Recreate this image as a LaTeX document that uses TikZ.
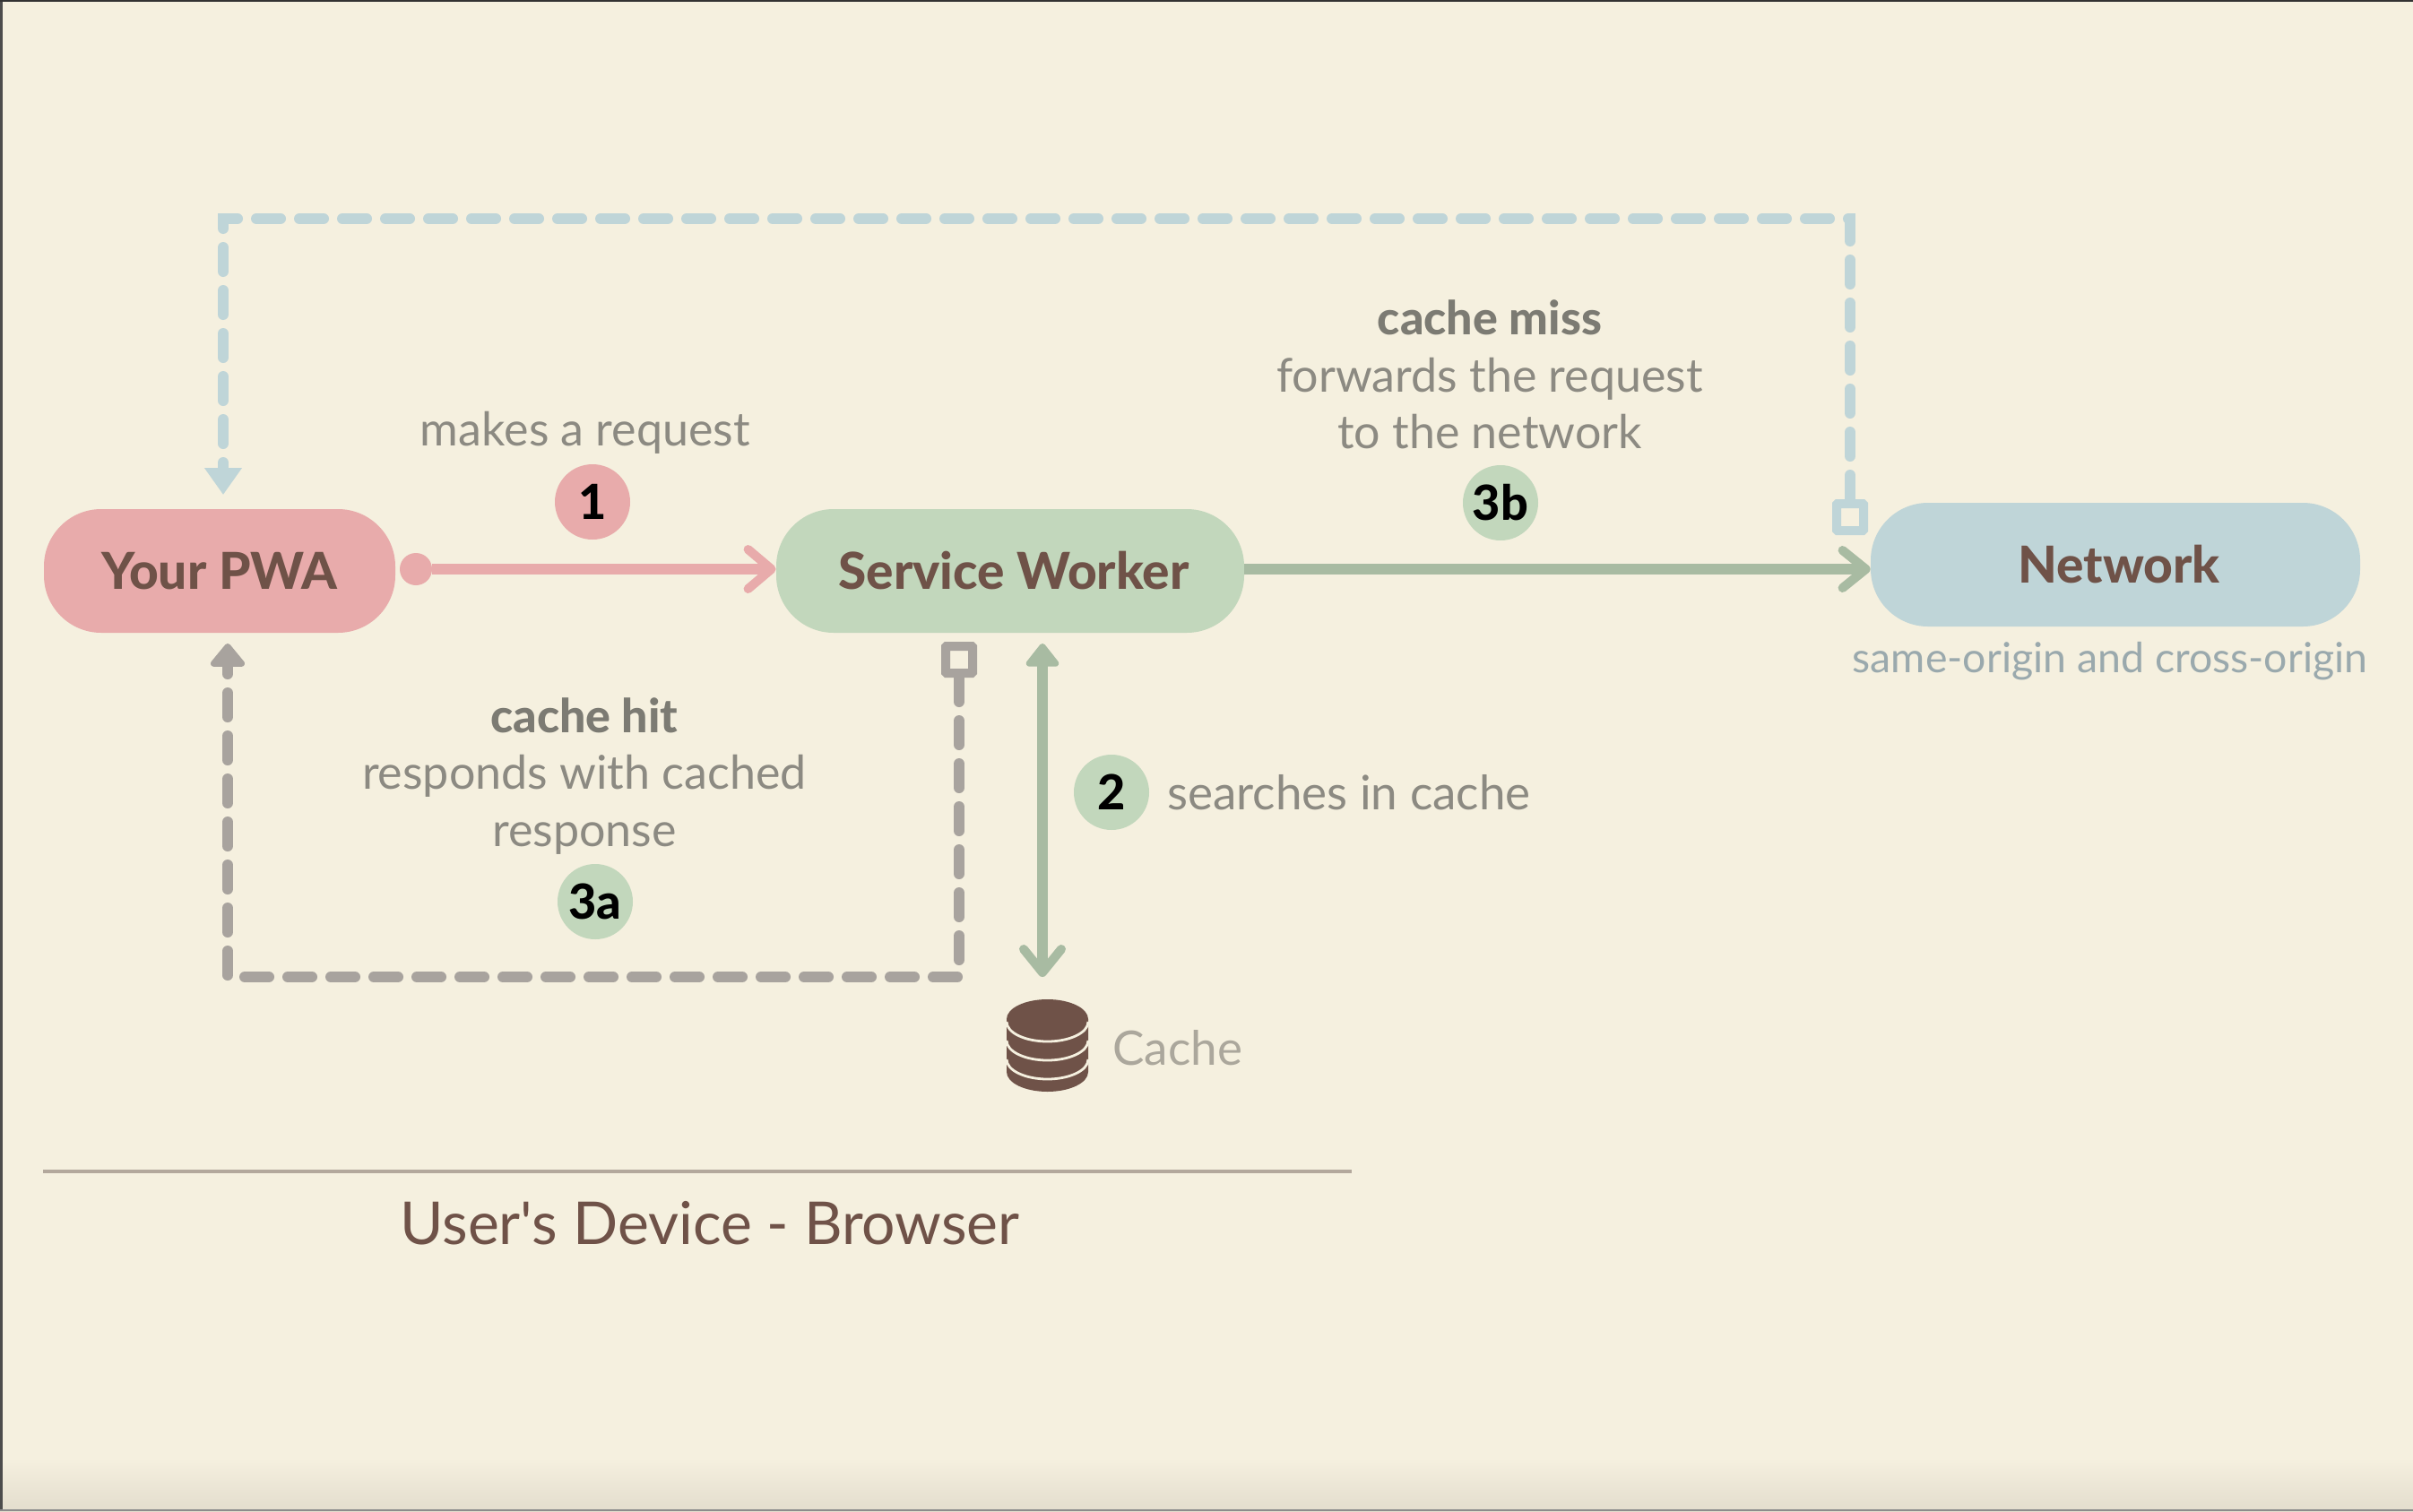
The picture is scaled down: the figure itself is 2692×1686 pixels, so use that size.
\documentclass[tikz,border=0pt]{standalone}
\usepackage{fontspec}
\setmainfont{Lato}[BoldFont={Lato Heavy}]
\newfontfamily\plainf{Lato}
\usetikzlibrary{arrows.meta}
\definecolor{bgc}{HTML}{F5F0DF}
\definecolor{bottomc}{HTML}{E3DDCD}
\definecolor{pinkc}{HTML}{E8ABAB}
\definecolor{greenc}{HTML}{C2D7BC}
\definecolor{greenl}{HTML}{A8BBA2}
\definecolor{bluec}{HTML}{BFD5D8}
\definecolor{grayl}{HTML}{A8A39E}
\definecolor{brownc}{HTML}{6F5248}
\definecolor{labelc}{HTML}{8C8A82}
\definecolor{labelb}{HTML}{7C7B73}
\definecolor{cachec}{HTML}{ABA79C}
\definecolor{netl}{HTML}{9AA9AD}
\definecolor{rulec}{HTML}{B3A89C}
\tikzset{
  x=0.5pt,y=-0.5pt,
  pill/.style={fill=#1,draw=none,rounded corners=32pt,inner sep=0pt,text=brownc,font=\fontsize{28.4}{33}\selectfont\bfseries,minimum height=69pt},
  badge/.style={circle,fill=#1,draw=none,minimum size=42pt,inner sep=0pt,text=black,font=\fontsize{27}{32}\selectfont\bfseries},
  lab/.style={text=labelc,font=\fontsize{26}{31.7}\selectfont,align=center,inner sep=0pt},
  sqnode/.style={rectangle,draw=#1,line width=5pt,fill=bgc,minimum size=15pt,inner sep=0pt,rounded corners=0.5pt},
  conn/.style={line width=6pt},
  dashline/.style={line width=6pt,dash pattern=on 13.5pt off 10.5pt,line cap=round},
}
\newcommand{\headlab}[1]{{\color{labelb}\bfseries #1}}
\begin{document}
\begin{tikzpicture}
\useasboundingbox (0,0) rectangle (2692,1686);
\fill[bgc] (0,0) rectangle (2692,1686);
\shade[top color=bgc,bottom color=bottomc] (0,1627) rectangle (2692,1686);
\fill[black!70] (0,0) rectangle (3,1686);
\fill[black!80] (0,0) rectangle (2692,2);
\fill[black!45] (0,1684) rectangle (2692,1686);

% main nodes
\node[pill=pinkc,minimum width=196pt] (pwa) at (245,637) {Your PWA};
\node[pill=greenc,minimum width=261pt] (sw) at (1127,637) {\hspace*{4pt}Service Worker};
\node[pill=bluec,minimum width=273pt] (net) at (2360,630) {\hspace*{4pt}Network};

% badges
\node[badge=pinkc] (b1) at (661,560) {1};
\node[badge=greenc] (b2) at (1240,884) {2};
\node[badge=greenc] (b3a) at (664,1006) {3a};
\node[badge=greenc] (b3b) at (1674,561) {3b};

% labels
\node[lab] (l1) at (653,483) {makes a request};
\node[lab,anchor=west,font=\fontsize{26.5}{31.7}\selectfont] (l2) at (1302,884) {searches in cache};
\node[lab] (l3a) at (652,866) {\headlab{cache hit}\\responds with cached\\response};
\node[lab] (l3b) at (1662,418) {\headlab{cache miss}\\forwards the request\\to the network};
\node[lab,text=netl,font=\fontsize{23.2}{28}\selectfont] (lnet) at (2354,738) {same-origin and cross-origin};
\node[lab,text=cachec,anchor=west,font=\fontsize{26.5}{32}\selectfont] (lcache) at (1241,1169) {Cache};
\node[text=brownc,font=\fontsize{33}{40}\selectfont\plainf,inner sep=0pt] (ldev) at (792,1365) {User's Device - Browser};

% end markers
\node[circle,fill=pinkc,minimum size=18pt,inner sep=0pt] (pdot) at (464,635) {};
\node[sqnode=grayl] (gsq) at (1070,736) {};
\node[sqnode=bluec] (bsq) at (2064,577) {};

% free ends and corners
\coordinate (bluein) at (249,552);
\coordinate (bluecorner1) at (2064,244);
\coordinate (bluecorner2) at (249,244);
\coordinate (grayin) at (254,718);
\coordinate (graycorner1) at (1070,1090);
\coordinate (graycorner2) at (254,1090);
\coordinate (cachetop) at (1163,718);
\coordinate (cachebot) at (1163,1090);

% connectors
\draw[conn,pinkc,-{Straight Barb[length=13pt,width=22pt,line width=5pt,round]}] (pdot.east) -- (sw.west |- pdot);
\draw[conn,greenl,-{Straight Barb[length=13pt,width=21pt,line width=5pt,round]}] (sw.east |- pdot) -- (net.west |- pdot);
\draw[conn,greenl,{Triangle[length=14pt,width=21pt,round]}-{Straight Barb[length=13pt,width=21pt,line width=5pt,round]}] (cachetop) -- (cachebot);
\draw[dashline,bluec,-{Triangle[length=15pt,width=20pt]}] (bsq.north) -- (bluecorner1) -- (bluecorner2) -- (bluein);
\draw[dashline,grayl,-{Triangle[length=14pt,width=22pt,round]}] (gsq.south) -- (graycorner1) -- (graycorner2) -- (grayin);

% rule
\coordinate (rulea) at (48,1307);
\coordinate (ruleb) at (1508,1307);
\draw[rulec,line width=2pt] (rulea) -- (ruleb);

% cache icon
\fill[brownc] (1123,1137) arc[start angle=180,end angle=-180,x radius=45.5,y radius=22];
\fill[brownc] (1123,1137) -- (1214,1137) -- (1214,1196) arc[start angle=0,end angle=180,x radius=45.5,y radius=22] -- cycle;
\foreach \yy in {1140,1161,1182}
  \draw[bgc,line width=1.4pt] (1123,\yy) arc[start angle=180,end angle=0,x radius=45.5,y radius=22];
\end{tikzpicture}
\end{document}
